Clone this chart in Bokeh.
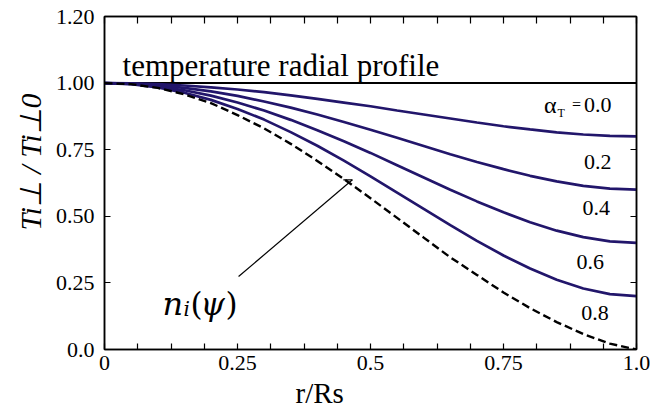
from bokeh.plotting import figure
from bokeh.models import Range1d, FixedTicker, LinearAxis, Title
from bokeh.core.properties import value
from bokeh.embed import file_html
from bokeh.resources import INLINE

# ---------------- data ----------------
r = [0.00, 0.05, 0.10, 0.15, 0.20, 0.25, 0.30, 0.35, 0.40, 0.45, 0.50,
     0.55, 0.60, 0.65, 0.70, 0.75, 0.80, 0.85, 0.90, 0.95, 1.00]

# temperature profiles (Ti_perp / Ti_perp0)
ti_end08 = [1.000, 0.999, 0.996, 0.991, 0.984, 0.976, 0.966, 0.954, 0.941, 0.927, 0.913,
            0.897, 0.882, 0.867, 0.852, 0.838, 0.826, 0.815, 0.807, 0.802, 0.800]
ti_end06 = [1.000, 0.998, 0.992, 0.982, 0.969, 0.952, 0.931, 0.908, 0.882, 0.854, 0.825,
            0.795, 0.764, 0.733, 0.704, 0.677, 0.652, 0.631, 0.614, 0.604, 0.600]
ti_end04 = [1.000, 0.997, 0.988, 0.973, 0.953, 0.927, 0.897, 0.862, 0.823, 0.782, 0.738,
            0.692, 0.646, 0.600, 0.556, 0.515, 0.478, 0.446, 0.422, 0.406, 0.400]
ti_end02 = [1.000, 0.996, 0.984, 0.964, 0.937, 0.903, 0.863, 0.816, 0.765, 0.709, 0.650,
            0.589, 0.528, 0.467, 0.408, 0.353, 0.304, 0.262, 0.229, 0.208, 0.200]
# density profile n_i(psi) (dashed)
ni_psi = [1.000, 0.996, 0.982, 0.958, 0.925, 0.880, 0.830, 0.772, 0.708, 0.640, 0.568,
          0.494, 0.420, 0.346, 0.280, 0.214, 0.155, 0.103, 0.058, 0.022, 0.000]
# flat profile at 1.0
flat_r = [0.0, 1.0]
flat_t = [1.00, 1.00]

# tick values / labels
x_ticks = [0.0, 0.25, 0.5, 0.75, 1.0]
x_tick_labels = ["0", "0.25", "0.5", "0.75", "1.0"]
x_minor = [0.0625, 0.125, 0.1875, 0.3125, 0.375, 0.4375,
           0.5625, 0.625, 0.6875, 0.8125, 0.875, 0.9375]
y_ticks = [0.0, 0.25, 0.5, 0.75, 1.0, 1.25]
y_tick_labels = ["0.0", "0.25", "0.50", "0.75", "1.00", "1.20"]

# curve annotations
alpha_labels = ["0.2", "0.4", "0.6", "0.8"]
alpha_label_x = [0.953, 0.950, 0.939, 0.948]
alpha_label_y = [0.705, 0.530, 0.330, 0.138]

NAVY = "#22166b"
SERIF = "Liberation Serif"

p = figure(width=650, height=413, x_range=Range1d(0, 1), y_range=Range1d(0, 1.25),
           output_backend="svg", toolbar_location=None,
           min_border_left=104, min_border_right=14, min_border_top=16, min_border_bottom=64)
p.grid.visible = False
p.outline_line_color = "black"
p.outline_line_width = 1.5
p.background_fill_color = "white"
p.border_fill_color = "white"

# bottom axis
xa = p.xaxis[0]
xa.ticker = FixedTicker(ticks=x_ticks, minor_ticks=x_minor)
xa.major_label_overrides = {t: s for t, s in zip(x_ticks, x_tick_labels)}
# left axis
ya = p.yaxis[0]
ya.ticker = FixedTicker(ticks=y_ticks, minor_ticks=[])
ya.major_label_overrides = {t: s for t, s in zip(y_ticks, y_tick_labels)}

top = LinearAxis(ticker=FixedTicker(ticks=x_ticks, minor_ticks=x_minor))
right = LinearAxis(ticker=FixedTicker(ticks=y_ticks, minor_ticks=[]))
p.add_layout(top, "above")
p.add_layout(right, "right")

for ax in (xa, ya, top, right):
    ax.axis_line_color = "black"
    ax.axis_line_width = 1.5
    ax.major_tick_line_color = "black"
    ax.minor_tick_line_color = "black"
    ax.major_tick_line_width = 1.2
    ax.minor_tick_line_width = 1.2
    ax.major_tick_out = 0
    ax.minor_tick_out = 0
    ax.major_tick_in = 6
    ax.minor_tick_in = 6
    ax.major_label_text_font = SERIF
    ax.major_label_text_font_size = "22px"
    ax.major_label_text_color = "black"
xa.major_label_standoff = 6
ya.major_label_standoff = 10
for ax in (top, right):
    ax.major_label_text_font_size = "0px"
    ax.major_label_standoff = 0
top.major_tick_in = 7
top.minor_tick_in = 7

# axis titles
p.add_layout(Title(text="r/Rs", align="left", offset=191, text_font=SERIF,
                   text_font_size="29px", text_font_style="normal", text_color="black",
                   standoff=4), "below")
p.add_layout(Title(text="Ti⊥ / Ti⊥0", align="left", offset=119, text_font=SERIF,
                   text_font_size="30px", text_font_style="italic", text_color="black",
                   standoff=12), "left")

# curves
p.line(flat_r, flat_t, line_color="black", line_width=2)
for ys in (ti_end08, ti_end06, ti_end04, ti_end02):
    p.line(r, ys, line_color=NAVY, line_width=2.7)
p.line(r, ni_psi, line_color="black", line_width=2.4, line_dash="8 4")

# title inside box
p.text(x=[0.034], y=[1.065], text=["temperature radial profile"],
       text_font=value(SERIF), text_font_size=value("31px"), text_color="black",
       text_align="left", text_baseline="alphabetic")

# alpha labels
p.text(x=alpha_label_x, y=alpha_label_y, text=alpha_labels,
       text_font=value(SERIF), text_font_size=value("22px"), text_color="black",
       text_align="right", text_baseline="middle")
ax0, ay0 = 0.953, 0.918
p.text(x=[ax0], y=[ay0], text=["0.0"], text_font=value(SERIF), text_font_size=value("22px"),
       text_align="right", text_baseline="middle", text_color="black")
p.text(x=[ax0], y=[ay0], text=["="], x_offset=-35, text_font=value(SERIF),
       text_font_size=value("16px"), text_align="center", text_baseline="middle", text_color="black")
p.text(x=[ax0], y=[ay0], text=["T"], x_offset=-54, y_offset=8, text_font=value(SERIF),
       text_font_size=value("12px"), text_align="left", text_baseline="alphabetic", text_color="black")
p.text(x=[ax0], y=[ay0], text=["α"], x_offset=-55, text_font=value(SERIF),
       text_font_size=value("24px"), text_align="right", text_baseline="middle", text_color="black")

# n_i(psi) label and leader
nx, ny = 0.109, 0.1725
DJ = "DejaVu Serif"
p.text(x=[nx], y=[ny], text=["n"], text_font=value(DJ), text_font_style="italic",
       text_font_size=value("32px"), text_align="left", text_baseline="alphabetic", text_color="black")
p.text(x=[nx], y=[ny], text=["i"], x_offset=21, y_offset=5, text_font=value(DJ), text_font_style="italic",
       text_font_size=value("20px"), text_align="left", text_baseline="alphabetic", text_color="black")
p.text(x=[nx], y=[ny], text=["("], x_offset=28, text_font=value(DJ),
       text_font_size=value("31px"), text_align="left", text_baseline="alphabetic", text_color="black")
p.text(x=[nx], y=[ny], text=["ψ"], x_offset=38, text_font=value(DJ), text_font_style="italic",
       text_font_size=value("31px"), text_align="left", text_baseline="alphabetic", text_color="black")
p.text(x=[nx], y=[ny], text=[")"], x_offset=63, text_font=value(DJ),
       text_font_size=value("31px"), text_align="left", text_baseline="alphabetic", text_color="black")
p.segment(x0=[0.252, 0.449], y0=[0.274, 0.637], x1=[0.466, 0.466], y1=[0.637, 0.637],
          line_color="black", line_width=1.2)

open("out.html", "w").write(file_html(p, INLINE))
